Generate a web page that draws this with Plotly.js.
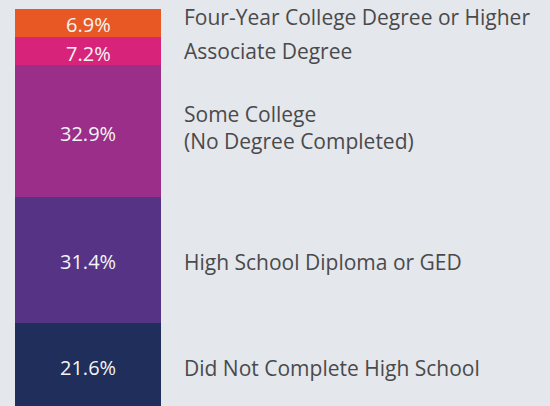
<!DOCTYPE html>
<html>
<head>
<meta charset="utf-8">
<script src="https://cdn.plot.ly/plotly-3.0.1.min.js"></script>
<style>html,body{margin:0;padding:0;background:#e4e7eb;}#chart{width:550px;height:406px;}</style>
</head>
<body>
<div id="chart"></div>
<script>
// Data (bottom to top)
const categories = ["Did Not Complete High School", "High School Diploma or GED", "Some College<br>(No Degree Completed)", "Associate Degree", "Four-Year College Degree or Higher"];
const values = [21.6, 31.4, 32.9, 7.2, 6.9];
const colors = ["#1f2e5a", "#573386", "#9a2e88", "#d8237a", "#e85824"];
// vertical nudges of the side labels (px)
const labelShift = [-2, -2, 4, 0, 6];

const traces = [];
const annotations = [];
let cum = 0;
for (let i = 0; i < values.length; i++) {
  traces.push({
    type: "bar",
    x: [0.16],
    y: [values[i]],
    width: [0.2655],
    marker: {color: colors[i], line: {width: 0}},
    hoverinfo: "skip"
  });
  annotations.push({
    xref: "x", yref: "y",
    x: 0.16, y: cum + values[i] / 2,
    xanchor: "center", yanchor: "middle",
    yshift: -2,
    text: values[i].toFixed(1) + "%",
    showarrow: false,
    font: {color: "#f4f4f6", size: 20, family: "Open Sans, sans-serif"}
  });
  annotations.push({
    xref: "paper", yref: "y",
    x: 0.331, y: cum + values[i] / 2,
    xanchor: "left", yanchor: "middle",
    yshift: labelShift[i],
    text: categories[i],
    showarrow: false,
    align: "left",
    font: {color: "#4a4a4c", size: 21, family: "Open Sans, sans-serif"}
  });
  cum += values[i];
}

const layout = {
  width: 550, height: 406,
  margin: {l: 0, r: 0, t: 9, b: 0, pad: 0},
  paper_bgcolor: "#e4e7eb",
  plot_bgcolor: "#e4e7eb",
  barmode: "stack",
  showlegend: false,
  hovermode: false,
  xaxis: {range: [0, 1], visible: false, fixedrange: true},
  yaxis: {range: [0.75, 100], visible: false, fixedrange: true},
  annotations: annotations
};

Plotly.newPlot("chart", traces, layout, {displayModeBar: false, staticPlot: true});
</script>
</body>
</html>
